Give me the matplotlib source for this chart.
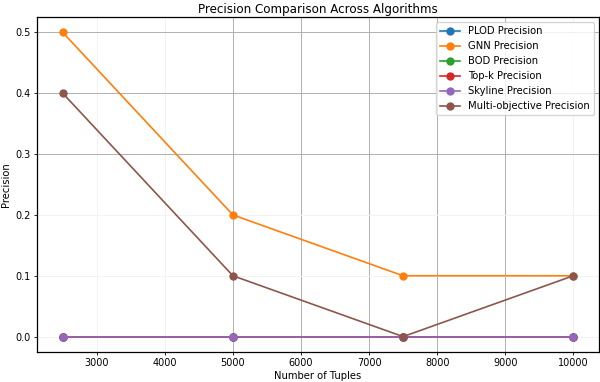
import matplotlib
matplotlib.use("Agg")
import matplotlib.pyplot as plt

# data
tuples = [2500, 5000, 7500, 10000]
plod_precision = [0.0, 0.0, 0.0, 0.0]
gnn_precision = [0.5, 0.2, 0.1, 0.1]
bod_precision = [0.0, 0.0, 0.0, 0.0]
topk_precision = [0.0, 0.0, 0.0, 0.0]
skyline_precision = [0.0, 0.0, 0.0, 0.0]
multi_precision = [0.4, 0.1, 0.0, 0.1]

series = [
    ("PLOD Precision", plod_precision),
    ("GNN Precision", gnn_precision),
    ("BOD Precision", bod_precision),
    ("Top-k Precision", topk_precision),
    ("Skyline Precision", skyline_precision),
    ("Multi-objective Precision", multi_precision),
]

plt.rcParams['font.family'] = ['DejaVu Sans']

fig = plt.figure(figsize=(6, 3.82), dpi=100)
ax = fig.add_axes([0.062, 0.079, 0.936, 0.876])

for name, vals in series:
    ax.plot(tuples, vals, marker='o', markersize=5, linewidth=1.2, label=name)

ax.set_title("Precision Comparison Across Algorithms", fontsize=8.6, pad=3)
ax.set_xlabel("Number of Tuples", fontsize=7.2, labelpad=2)
ax.set_ylabel("Precision", fontsize=7.2, labelpad=3)
ax.tick_params(labelsize=7.0, length=2.5, width=0.6, pad=2)
ax.set_xticks([3000, 4000, 5000, 6000, 7000, 8000, 9000, 10000])
ax.set_yticks([0.0, 0.1, 0.2, 0.3, 0.4, 0.5])
for sp in ax.spines.values():
    sp.set_linewidth(0.9)

ax.grid(True, color='#b0b0b0', linewidth=0.7)
# the reference shows some grid lines almost washed out
for loc, gl in zip(ax.get_xticks(), ax.xaxis.get_gridlines()):
    if loc < 5000 or loc > 9000:
        gl.set_color('#f2f2f2')
for loc, gl in zip(ax.get_yticks(), ax.yaxis.get_gridlines()):
    if loc < 0.25:
        gl.set_color('#f2f2f2')

ax.legend(loc='upper right', fontsize=7.2, handlelength=2.0, labelspacing=0.5,
          borderpad=0.4, handletextpad=0.8, framealpha=0.8)

fig.savefig("out.png", dpi=100)
